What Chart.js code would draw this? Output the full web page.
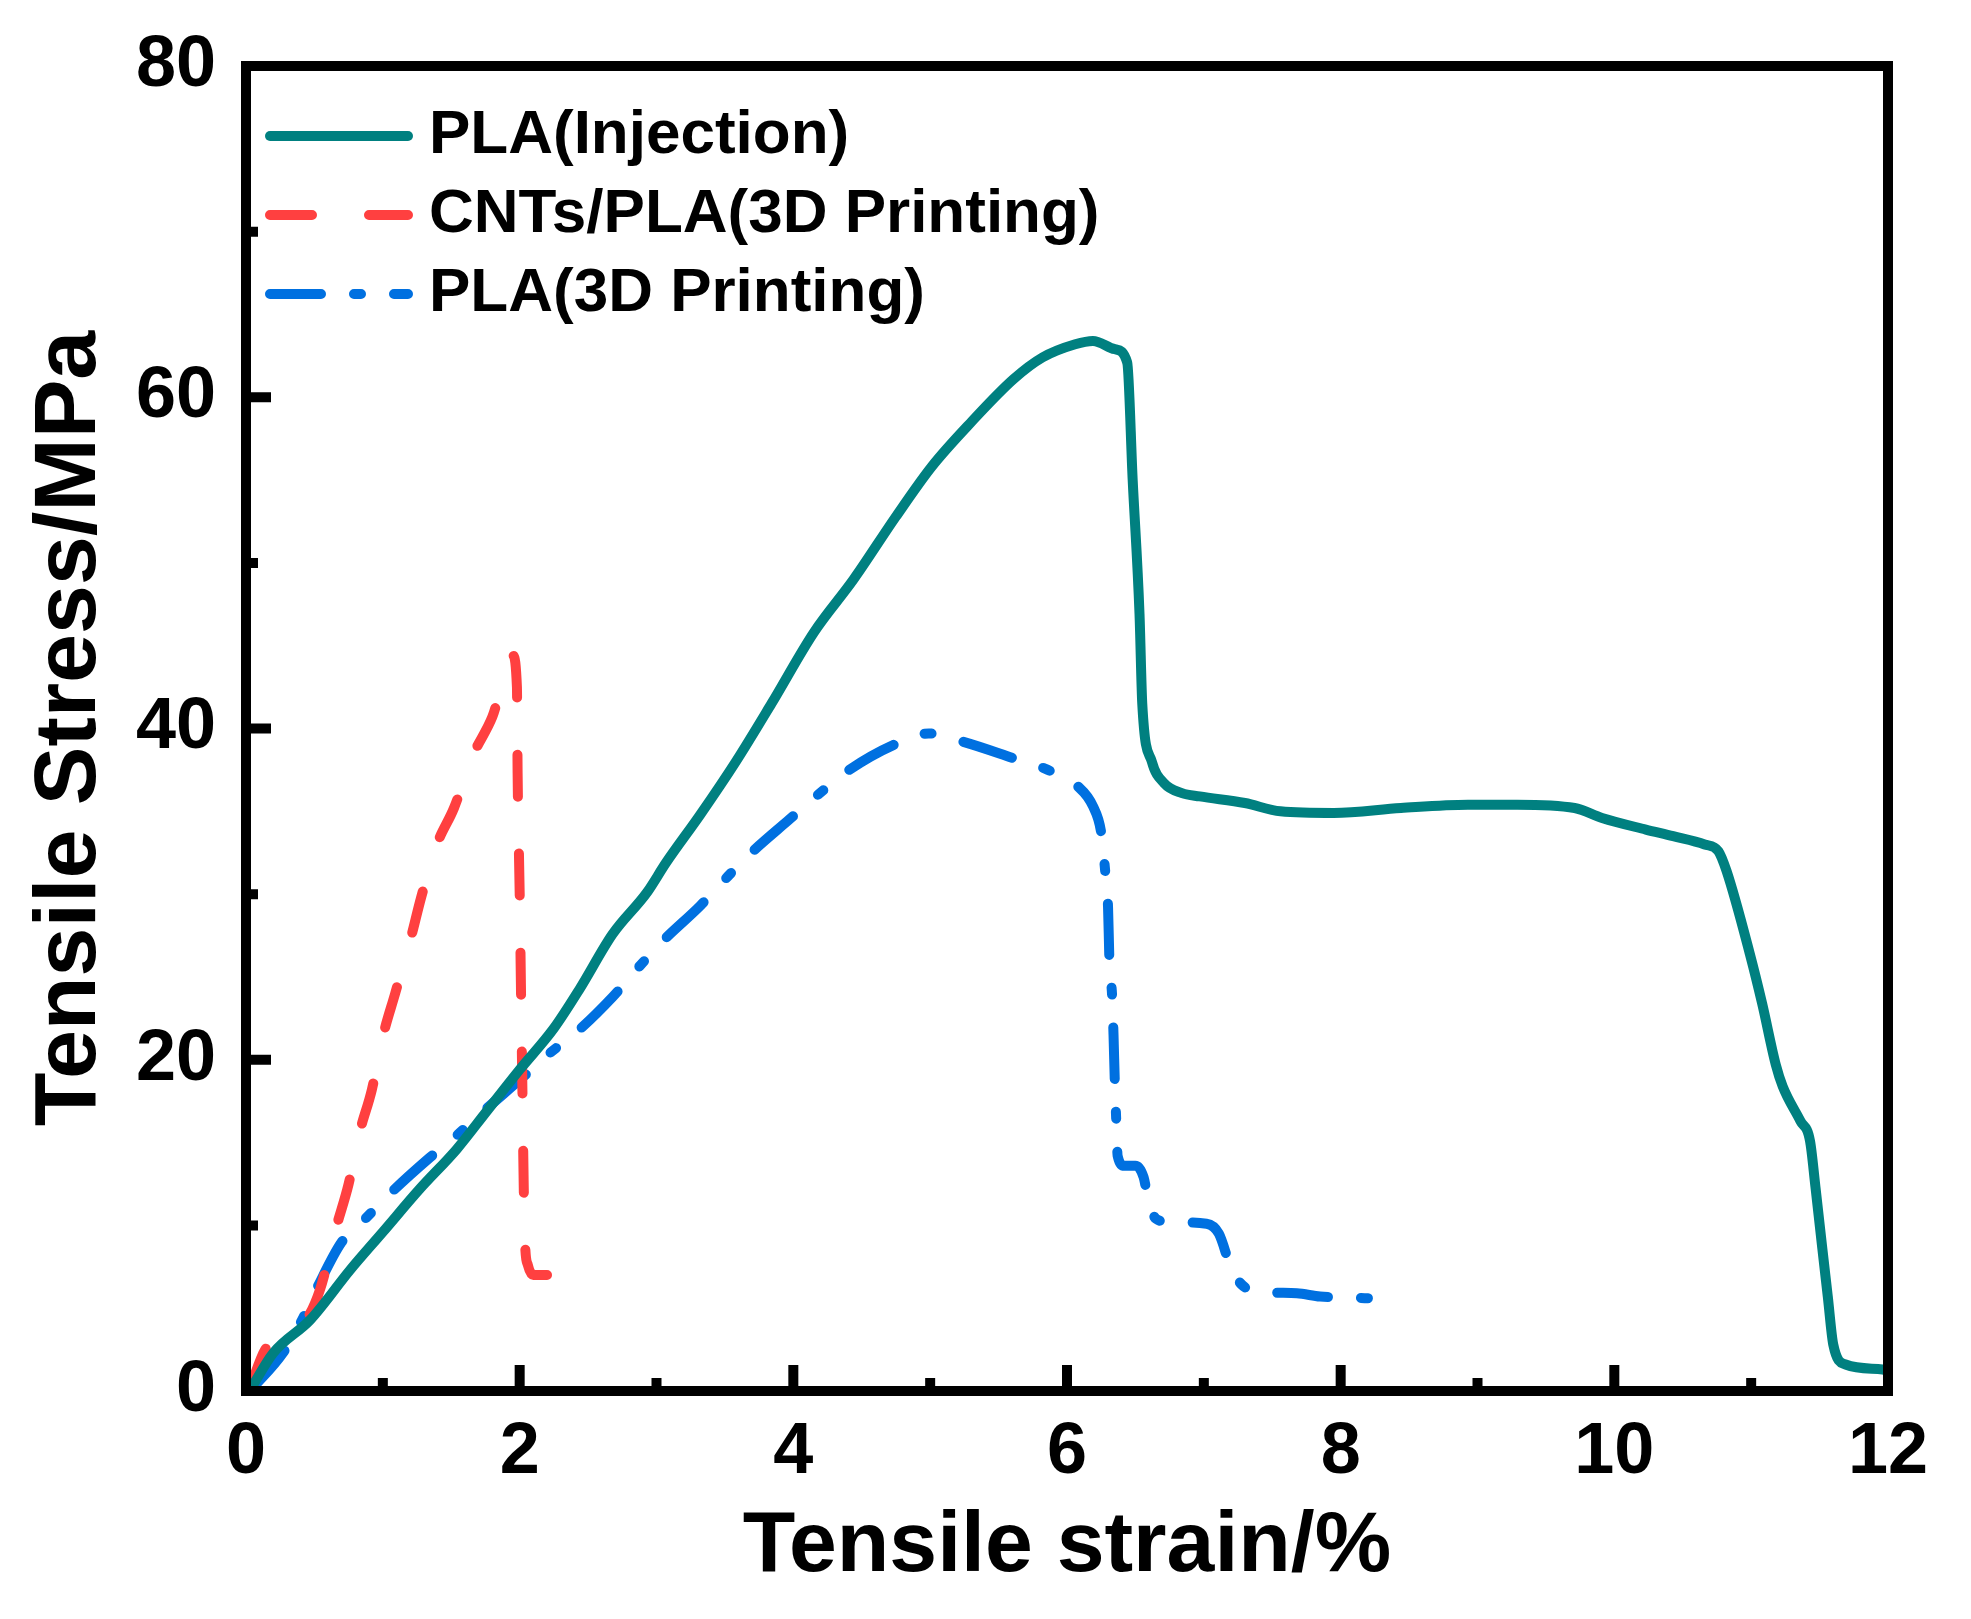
<!DOCTYPE html>
<html>
<head>
<meta charset="utf-8">
<script src="https://cdn.jsdelivr.net/npm/chart.js@4.4.1/dist/chart.umd.min.js"></script>
<style>
  html, body { margin: 0; padding: 0; background: #fff; }
  canvas { display: block; }
</style>
</head>
<body>
<canvas id="chart" width="1971" height="1619"></canvas>
<script>
// series values (strain in %, stress in MPa)
const injectionStrain = [0.04, 0.20, 0.47, 0.76, 1.00, 1.27, 1.54, 1.76, 2.00, 2.25, 2.44, 2.68, 2.93, 3.07, 3.32, 3.58, 3.84, 4.15, 4.44, 4.75, 5.01, 5.30, 5.61, 5.82, 6.06, 6.19, 6.35, 6.44, 6.48, 6.53, 6.55, 6.62, 6.71, 6.84, 6.97, 7.30, 7.56, 7.95, 8.44, 8.93, 9.29, 9.71, 9.91, 10.23, 10.43, 10.66, 10.76, 10.82, 10.99, 11.08, 11.18, 11.23, 11.36, 11.43, 11.47, 11.52, 11.56, 11.60, 11.69, 11.96, 12.00]
const injectionStress = [0.2, 2.3, 4.3, 7.3, 9.6, 12.2, 14.6, 16.9, 19.4, 21.9, 24.3, 27.6, 30.1, 31.9, 34.8, 38.0, 41.5, 45.8, 49.0, 52.8, 55.8, 58.5, 61.1, 62.4, 63.2, 63.4, 62.9, 62.1, 55.0, 46.9, 41.5, 38.0, 36.7, 36.1, 35.9, 35.5, 35.0, 34.9, 35.2, 35.4, 35.4, 35.2, 34.6, 33.9, 33.5, 33.0, 32.6, 31.4, 26.4, 23.4, 19.7, 18.4, 16.3, 15.1, 12.3, 8.6, 5.7, 2.8, 1.6, 1.3, 1.2]

const cntStrain = [0.03, 0.14, 0.30, 0.44, 0.54, 0.66, 0.75, 0.83, 0.92, 1.00, 1.09, 1.20, 1.28, 1.39, 1.52, 1.66, 1.80, 1.95, 1.98, 1.985, 2.00, 2.01, 2.02, 2.03, 2.04, 2.06, 2.10, 2.20]
const cntStress = [0.2, 2.5, 3.4, 4.3, 6.1, 9.9, 12.5, 15.6, 18.2, 21.4, 24.0, 27.2, 29.8, 32.9, 35.2, 38.4, 40.7, 44.4, 42.5, 37.3, 30.1, 24.0, 18.2, 12.2, 8.8, 7.6, 7.0, 7.0]

const printStrain = [0.04, 0.27, 0.41, 0.53, 0.70, 0.86, 1.05, 1.33, 1.55, 1.71, 2.03, 2.22, 2.42, 2.68, 2.86, 3.05, 3.32, 3.49, 3.68, 3.97, 4.18, 4.39, 4.73, 4.99, 5.24, 5.61, 5.86, 6.08, 6.19, 6.25, 6.28, 6.30, 6.31, 6.33, 6.34, 6.35, 6.36, 6.37, 6.42, 6.50, 6.56, 6.59, 6.65, 6.75, 7.02, 7.11, 7.20, 7.28, 7.41, 7.68, 7.85, 8.04, 8.31, 8.35]
const printStress = [0.1, 2.3, 4.3, 6.4, 9.0, 10.3, 11.9, 14.0, 15.5, 16.7, 19.0, 20.4, 21.7, 23.8, 25.5, 27.2, 29.3, 30.8, 32.4, 34.5, 36.0, 37.4, 39.0, 39.7, 39.2, 38.2, 37.5, 36.5, 35.3, 33.7, 31.3, 29.2, 26.0, 23.8, 21.5, 18.5, 16.3, 14.2, 13.6, 13.6, 12.9, 11.7, 10.4, 10.2, 10.1, 9.5, 7.4, 6.4, 6.0, 5.9, 5.7, 5.65, 5.5, 5.4]

const seriesNames = ['PLA(Injection)', 'CNTs/PLA(3D Printing)', 'PLA(3D Printing)']
const xMajorTicks = [0, 2, 4, 6, 8, 10, 12]
const xMinorTicks = [1, 3, 5, 7, 9, 11]
const yMajorTicks = [0, 20, 40, 60, 80]
const yMinorTicks = [10, 30, 50, 70]

const FONT = "'Liberation Sans', Arial, sans-serif"

function pairs(xs, ys) {
  return xs.map((x, i) => ({ x: x, y: ys[i] }))
}

// box round the plot, inward ticks on left and bottom, legend in the corner
const framePlugin = {
  id: 'frame',
  afterDatasetsDraw(chart) {
    const ctx = chart.ctx
    const a = chart.chartArea
    const x = chart.scales.x
    const y = chart.scales.y
    ctx.save()
    ctx.strokeStyle = '#000'
    ctx.lineWidth = 10
    ctx.lineCap = 'butt'
    ctx.beginPath()
    xMajorTicks.slice(1, -1).forEach((v) => {
      const px = x.getPixelForValue(v)
      ctx.moveTo(px, a.bottom); ctx.lineTo(px, a.bottom - 26)
    })
    xMinorTicks.forEach((v) => {
      const px = x.getPixelForValue(v)
      ctx.moveTo(px, a.bottom); ctx.lineTo(px, a.bottom - 13)
    })
    yMajorTicks.slice(1, -1).forEach((v) => {
      const py = y.getPixelForValue(v)
      ctx.moveTo(a.left, py); ctx.lineTo(a.left + 25, py)
    })
    yMinorTicks.forEach((v) => {
      const py = y.getPixelForValue(v)
      ctx.moveTo(a.left, py); ctx.lineTo(a.left + 12, py)
    })
    ctx.stroke()
    ctx.lineJoin = 'miter'
    ctx.strokeRect(a.left, a.top, a.right - a.left, a.bottom - a.top)

    // legend
    ctx.font = 'bold 62px ' + FONT
    ctx.textBaseline = 'middle'
    ctx.textAlign = 'left'
    chart.data.datasets.forEach((ds, i) => {
      const ly = a.top + 70 + i * 79
      ctx.beginPath()
      ctx.strokeStyle = ds.borderColor
      ctx.lineWidth = 10
      ctx.lineCap = 'round'
      ctx.setLineDash(ds.borderDash || [])
      ctx.moveTo(a.left + 24, ly)
      ctx.lineTo(a.left + 162, ly)
      ctx.stroke()
      ctx.setLineDash([])
      ctx.fillStyle = '#000'
      ctx.fillText(ds.label, a.left + 183, ly)
    })
    ctx.restore()
  }
}

const tickFont = { family: FONT, size: 72, weight: 'bold', lineHeight: 1 }

new Chart(document.getElementById('chart'), {
  type: 'line',
  data: {
    datasets: [
      { label: seriesNames[0], data: pairs(injectionStrain, injectionStress), borderColor: '#008080' },
      { label: seriesNames[1], data: pairs(cntStrain, cntStress), borderColor: '#FF4040', borderDash: [42, 57] },
      { label: seriesNames[2], data: pairs(printStrain, printStress), borderColor: '#0070E0', borderDash: [51, 33, 7, 33] },
    ]
  },
  options: {
    responsive: false,
    animation: false,
    devicePixelRatio: 1,
    layout: { padding: { top: 63, right: 83, left: 0, bottom: 0 } },
    elements: {
      point: { radius: 0, hoverRadius: 0 },
      line: { borderWidth: 10, borderCapStyle: 'round', borderJoinStyle: 'round', cubicInterpolationMode: 'monotone', fill: false }
    },
    plugins: {
      legend: { display: false },
      tooltip: { enabled: false }
    },
    scales: {
      x: {
        type: 'linear',
        min: 0,
        max: 12,
        afterFit: (s) => { s.height = 228 },
        grid: { display: false, drawTicks: false },
        border: { display: false },
        ticks: { stepSize: 2, padding: 26, color: '#000', font: tickFont, maxRotation: 0 },
        title: {
          display: true,
          text: 'Tensile strain/%',
          color: '#000',
          font: { family: FONT, size: 86, weight: 'bold', lineHeight: 1 },
          padding: { top: 0, bottom: 29 }
        }
      },
      y: {
        min: 0,
        max: 80,
        afterFit: (s) => { s.width = 246 },
        grid: { display: false, drawTicks: false },
        border: { display: false },
        ticks: { stepSize: 20, padding: 30, color: '#000', font: tickFont },
        title: {
          display: true,
          text: 'Tensile Stress/MPa',
          color: '#000',
          font: { family: FONT, size: 88, weight: 'bold', lineHeight: 1 },
          padding: { top: 27, bottom: 0 }
        }
      }
    }
  },
  plugins: [framePlugin]
})
</script>
</body>
</html>
